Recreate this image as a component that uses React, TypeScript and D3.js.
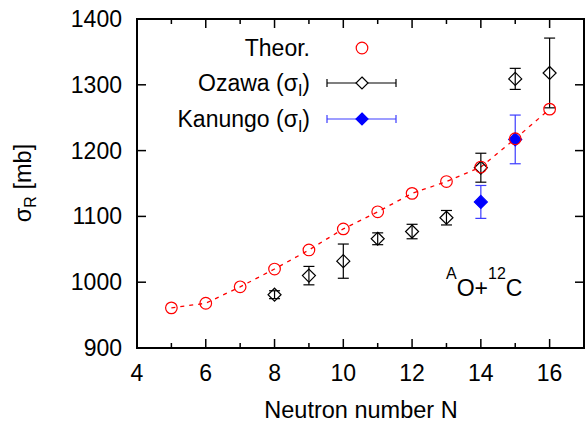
import React from "react";
import * as d3 from "d3";

const theorN = [5, 6, 7, 8, 9, 10, 11, 12, 13, 14, 15, 16];
const theorValues = [961, 968, 993, 1020, 1049, 1081, 1107, 1135, 1153, 1175, 1218, 1263];

const ozawaN = [8, 9, 10, 11, 12, 13, 14, 15, 16];
const ozawaValues = [981, 1010, 1032, 1066, 1077, 1098, 1174, 1309, 1318];
const ozawaErr = [6, 14, 26, 9, 11, 11, 22, 16, 53];

const kanungoN = [14, 15];
const kanungoValues = [1122, 1217];
const kanungoErr = [25, 37];

const xMajorTicks = [4, 6, 8, 10, 12, 14, 16];
const xMinorTicks = [5, 7, 9, 11, 13, 15];
const yTicks = [900, 1000, 1100, 1200, 1300, 1400];

const W = 587;
const H = 422;
const L = 137, R = 584, T = 19, B = 348;
const FONT = "'Liberation Sans', Arial, sans-serif";
const BLUE = "#0000ff";
const BLUE_LINE = "#3c3cff";
const RED = "#ff0000";
const FS = 23;
const SUB = 16;

function Diamond({ cx, cy, r, fill, stroke }: { cx: number; cy: number; r: number; fill: string; stroke: string }) {
  const d = `M${cx},${cy - r}L${cx + r},${cy}L${cx},${cy + r}L${cx - r},${cy}Z`;
  return <path d={d} fill={fill} stroke={stroke} strokeWidth={1.2} />;
}

export default function App() {
  const x = d3.scaleLinear().domain([4, 17]).range([L, R]);
  const y = d3.scaleLinear().domain([900, 1400]).range([B, T]);
  const line = d3
    .line<number>()
    .x((_, i) => x(theorN[i]))
    .y((v) => y(v));

  const cap = 5.5;
  const tickLen = 9;
  const minorLen = 5;

  const legendTextX = 310;
  const legendY = [48, 83, 119];
  const sx1 = 327, sx2 = 396, sxm = 362;

  return (
    <svg
      width={W}
      height={H}
      style={{ position: "absolute", left: 0, top: 0, background: "#fff" }}
      fontFamily={FONT}
    >
      <rect x={0} y={0} width={W} height={H} fill="#fff" />
      {/* ticks */}
      {xMajorTicks.map((t) => (
        <g key={"xm" + t}>
          <line x1={x(t)} x2={x(t)} y1={B} y2={B - tickLen} stroke="#000" strokeWidth={1.5} />
          <line x1={x(t)} x2={x(t)} y1={T} y2={T + tickLen} stroke="#000" strokeWidth={1.5} />
          <text x={x(t)} y={381} textAnchor="middle" fontSize={FS} fill="#000">
            {t}
          </text>
        </g>
      ))}
      {xMinorTicks.map((t) => (
        <g key={"xn" + t}>
          <line x1={x(t)} x2={x(t)} y1={B} y2={B - minorLen} stroke="#000" strokeWidth={1.5} />
          <line x1={x(t)} x2={x(t)} y1={T} y2={T + minorLen} stroke="#000" strokeWidth={1.5} />
        </g>
      ))}
      {yTicks.map((t) => (
        <g key={"y" + t}>
          <line x1={L} x2={L + tickLen} y1={y(t)} y2={y(t)} stroke="#000" strokeWidth={1.5} />
          <line x1={R} x2={R - tickLen} y1={y(t)} y2={y(t)} stroke="#000" strokeWidth={1.5} />
          <text x={122} y={y(t) + 8} textAnchor="end" fontSize={FS} fill="#000">
            {t}
          </text>
        </g>
      ))}

      {/* theory line */}
      <path d={line(theorValues) || ""} fill="none" stroke={RED} strokeWidth={1.3} strokeDasharray="4,5" />

      {/* Ozawa */}
      {ozawaN.map((n, i) => {
        const cx = x(n);
        const cy = y(ozawaValues[i]);
        const y1 = y(ozawaValues[i] + ozawaErr[i]);
        const y2 = y(ozawaValues[i] - ozawaErr[i]);
        return (
          <g key={"oz" + n}>
            <line x1={cx} x2={cx} y1={y1} y2={y2} stroke="#000" strokeWidth={1.2} />
            <line x1={cx - cap} x2={cx + cap} y1={y1} y2={y1} stroke="#000" strokeWidth={1.2} />
            <line x1={cx - cap} x2={cx + cap} y1={y2} y2={y2} stroke="#000" strokeWidth={1.2} />
            <Diamond cx={cx} cy={cy} r={6.5} fill="none" stroke="#000" />
          </g>
        );
      })}

      {/* Kanungo */}
      {kanungoN.map((n, i) => {
        const cx = x(n);
        const cy = y(kanungoValues[i]);
        const y1 = y(kanungoValues[i] + kanungoErr[i]);
        const y2 = y(kanungoValues[i] - kanungoErr[i]);
        return (
          <g key={"ka" + n}>
            <line x1={cx} x2={cx} y1={y1} y2={y2} stroke={BLUE_LINE} strokeWidth={1.2} />
            <line x1={cx - cap} x2={cx + cap} y1={y1} y2={y1} stroke={BLUE_LINE} strokeWidth={1.2} />
            <line x1={cx - cap} x2={cx + cap} y1={y2} y2={y2} stroke={BLUE_LINE} strokeWidth={1.2} />
            <Diamond cx={cx} cy={cy} r={6.5} fill={BLUE} stroke={BLUE} />
          </g>
        );
      })}

      {/* theory circles */}
      {theorN.map((n, i) => (
        <circle key={"th" + n} cx={x(n)} cy={y(theorValues[i])} r={5.8} fill="none" stroke={RED} strokeWidth={1.2} />
      ))}

      {/* frame */}
      <rect x={L} y={T} width={R - L} height={B - T} fill="none" stroke="#000" strokeWidth={2} />

      {/* legend */}
      <text x={legendTextX} y={legendY[0] + 8} textAnchor="end" fontSize={FS} fill="#000">
        Theor.
      </text>
      <circle cx={sxm} cy={legendY[0]} r={5.8} fill="none" stroke={RED} strokeWidth={1.2} />

      <text x={legendTextX} y={legendY[1] + 8} textAnchor="end" fontSize={FS} fill="#000">
        Ozawa (σ<tspan fontSize={SUB} dy={5}>I</tspan><tspan dy={-5}>)</tspan>
      </text>
      <line x1={sx1} x2={sx2} y1={legendY[1]} y2={legendY[1]} stroke="#000" strokeWidth={1.2} />
      <line x1={sx1} x2={sx1} y1={legendY[1] - 4} y2={legendY[1] + 4} stroke="#000" strokeWidth={1.2} />
      <line x1={sx2} x2={sx2} y1={legendY[1] - 4} y2={legendY[1] + 4} stroke="#000" strokeWidth={1.2} />
      <Diamond cx={sxm} cy={legendY[1]} r={6} fill="#fff" stroke="#000" />

      <text x={legendTextX} y={legendY[2] + 8} textAnchor="end" fontSize={FS} fill="#000">
        Kanungo (σ<tspan fontSize={SUB} dy={5}>I</tspan><tspan dy={-5}>)</tspan>
      </text>
      <line x1={sx1} x2={sx2} y1={legendY[2]} y2={legendY[2]} stroke={BLUE_LINE} strokeWidth={1.2} />
      <line x1={sx1} x2={sx1} y1={legendY[2] - 4} y2={legendY[2] + 4} stroke={BLUE_LINE} strokeWidth={1.2} />
      <line x1={sx2} x2={sx2} y1={legendY[2] - 4} y2={legendY[2] + 4} stroke={BLUE_LINE} strokeWidth={1.2} />
      <Diamond cx={sxm} cy={legendY[2]} r={6} fill={BLUE} stroke={BLUE} />

      {/* annotation */}
      <text x={446} y={296} fontSize={FS} fill="#000">
        <tspan fontSize={SUB} dy={-17}>A</tspan>
        <tspan dy={17}>O+</tspan>
        <tspan fontSize={SUB} dy={-17}>12</tspan>
        <tspan dy={17}>C</tspan>
      </text>

      {/* axis titles */}
      <text x={361} y={418} textAnchor="middle" fontSize={23.5} fill="#000">
        Neutron number N
      </text>
      <text transform="translate(31,183) rotate(-90)" textAnchor="middle" fontSize={23.5} fill="#000">
        σ<tspan fontSize={SUB} dy={5}>R</tspan><tspan dy={-5}> [mb]</tspan>
      </text>
    </svg>
  );
}
